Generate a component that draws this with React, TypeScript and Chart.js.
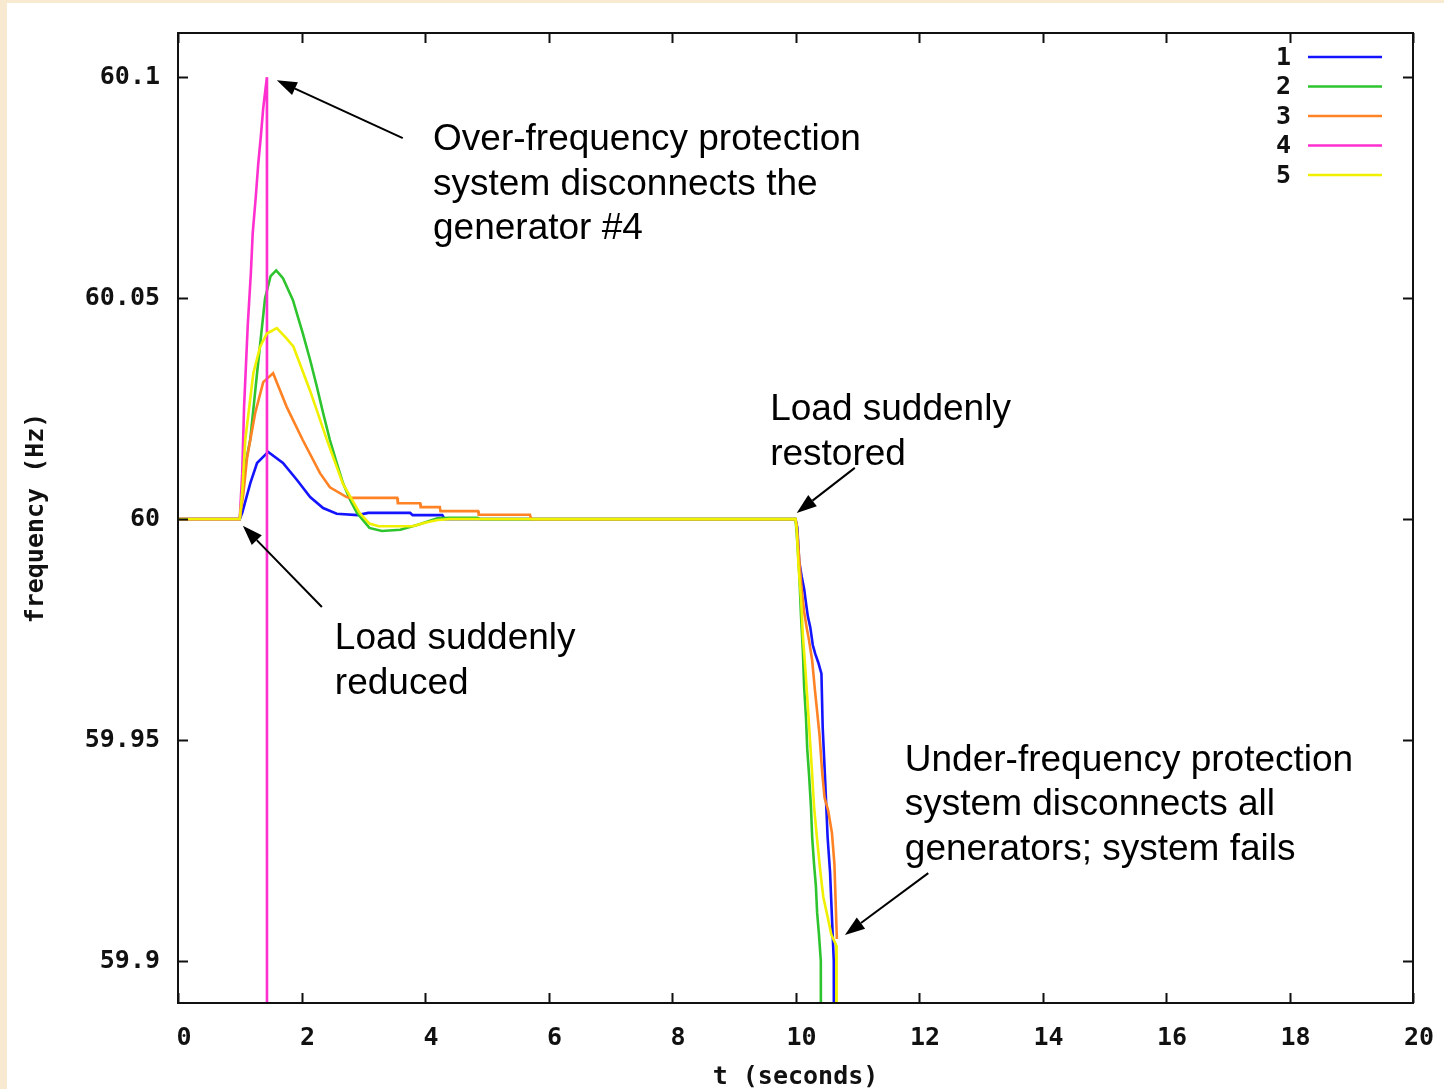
import React, { useEffect, useRef } from 'react';
import { Chart, registerables } from 'chart.js';

Chart.register(...registerables);

// ---- data ----
const seriesNames = ['1', '2', '3', '4', '5'];
const seriesColors = ['#1414ff', '#2ec42e', '#ff8224', '#ff2fd0', '#f0f000'];

const t1 = [0, 1.0, 1.04, 1.17, 1.28, 1.46, 1.7, 1.93, 2.14, 2.35, 2.57, 2.91, 3.08, 3.76, 3.8, 4.28, 4.32, 10.0, 10.03, 10.06, 10.1, 10.14, 10.17, 10.2, 10.24, 10.28, 10.32, 10.37, 10.42, 10.44, 10.48, 10.52, 10.56, 10.59, 10.62, 10.625];
const f1 = [60, 60, 60.0014, 60.0081, 60.0127, 60.0152, 60.0127, 60.0088, 60.005, 60.0025, 60.0012, 60.0009, 60.0014, 60.0014, 60.0009, 60.0009, 60, 60, 59.998, 59.9905, 59.987, 59.9842, 59.981, 59.978, 59.9755, 59.9715, 59.9695, 59.9675, 59.965, 59.953, 59.941, 59.928, 59.92, 59.91, 59.9, 59.85];

const t2 = [0, 1.0, 1.05, 1.1, 1.17, 1.28, 1.41, 1.5, 1.59, 1.7, 1.86, 2.02, 2.14, 2.25, 2.35, 2.46, 2.57, 2.67, 2.79, 2.9, 3.1, 3.3, 3.6, 3.9, 4.2, 4.4, 4.85, 4.9, 10.0, 10.02, 10.06, 10.09, 10.12, 10.14, 10.17, 10.19, 10.22, 10.25, 10.27, 10.3, 10.33, 10.35, 10.38, 10.41, 10.415];
const f2 = [60, 60, 60.008, 60.013, 60.018, 60.033, 60.05, 60.055, 60.0563, 60.0545, 60.0496, 60.0421, 60.036, 60.0299, 60.024, 60.0179, 60.0127, 60.0082, 60.0043, 60.0014, 59.998, 59.9973, 59.9976, 59.9988, 60.0002, 60.0003, 60.0003, 60, 60, 59.9968, 59.988, 59.978, 59.97, 59.962, 59.955, 59.948, 59.942, 59.935, 59.928, 59.922, 59.917, 59.911, 59.906, 59.9, 59.85];

const t3 = [0, 1.0, 1.06, 1.12, 1.25, 1.38, 1.54, 1.76, 2.02, 2.3, 2.46, 2.73, 2.79, 3.55, 3.56, 3.92, 3.93, 4.24, 4.25, 4.86, 4.87, 5.7, 5.72, 10.0, 10.02, 10.06, 10.1, 10.14, 10.18, 10.22, 10.27, 10.31, 10.35, 10.39, 10.43, 10.47, 10.53, 10.59, 10.63, 10.67];
const f3 = [60, 60, 60.006, 60.014, 60.024, 60.031, 60.033, 60.0254, 60.0179, 60.0104, 60.0072, 60.005, 60.0048, 60.0048, 60.0036, 60.0036, 60.0027, 60.0027, 60.0018, 60.0018, 60.001, 60.001, 60, 60, 59.9986, 59.991, 59.984, 59.979, 59.9755, 59.9725, 59.968, 59.962, 59.9565, 59.951, 59.943, 59.937, 59.934, 59.929, 59.922, 59.905];

const t4 = [0, 1.0, 1.04, 1.07, 1.13, 1.18, 1.21, 1.26, 1.3, 1.34, 1.38, 1.44, 1.441];
const f4 = [60, 60, 60.0104, 60.0253, 60.044, 60.0557, 60.0647, 60.073, 60.0805, 60.0864, 60.093, 60.1, 59.85];

const t5 = [0, 1.0, 1.04, 1.09, 1.22, 1.33, 1.44, 1.6, 1.75, 1.87, 2.14, 2.41, 2.67, 2.94, 3.1, 3.25, 3.8, 4.0, 4.2, 4.4, 10.0, 10.02, 10.05, 10.09, 10.12, 10.16, 10.19, 10.23, 10.27, 10.3, 10.35, 10.4, 10.45, 10.52, 10.58, 10.66, 10.665];
const f5 = [60, 60, 60.006, 60.018, 60.033, 60.039, 60.042, 60.0432, 60.041, 60.039, 60.029, 60.018, 60.008, 60.0014, 59.999, 59.9984, 59.9984, 59.9992, 59.9998, 60, 60, 59.9977, 59.989, 59.982, 59.9735, 59.966, 59.9597, 59.951, 59.9422, 59.935, 59.9275, 59.9205, 59.9145, 59.91, 59.906, 59.9035, 59.85];

const seriesT = [t1, t2, t3, t4, t5];
const seriesF = [f1, f2, f3, f4, f5];

const xTickValues = [0, 2, 4, 6, 8, 10, 12, 14, 16, 18, 20];
const xTickLabels = ['0', '2', '4', '6', '8', '10', '12', '14', '16', '18', '20'];
const yTickValues = [59.9, 59.95, 60, 60.05, 60.1];
const yTickLabels = ['59.9', '59.95', '60', '60.05', '60.1'];

const xTitle = 't (seconds)';
const yTitle = 'frequency (Hz)';

// annotation texts, anchored in data units (t, Hz)
const noteTexts = [
  ['Over-frequency protection', 'system disconnects the', 'generator #4'],
  ['Load suddenly', 'reduced'],
  ['Load suddenly', 'restored'],
  ['Under-frequency protection', 'system disconnects all', 'generators; system fails'],
];
const noteAnchorT = [4.13, 2.54, 9.59, 11.77];
const noteAnchorF = [60.0835, 59.9706, 60.0224, 59.943];
// arrows: tail -> head, data units
const arrowTailT = [3.64, 2.33, 10.96, 12.15];
const arrowTailF = [60.0862, 59.9801, 60.0116, 59.9199];
const arrowHeadT = [1.6, 1.05, 10.02, 10.8];
const arrowHeadF = [60.0993, 59.9985, 60.0014, 59.9059];

const MONO = 'bold 25px "DejaVu Sans Mono", monospace';
const SANS = '37px "Liberation Sans", Arial, sans-serif';

const decorPlugin = {
  id: 'decor',
  beforeDraw(chart: any) {
    const { ctx, width, height } = chart;
    ctx.save();
    ctx.fillStyle = '#f7ead0';
    ctx.fillRect(0, 0, width, height);
    ctx.fillStyle = '#ffffff';
    ctx.fillRect(7, 3, width - 7, height - 3);
    ctx.restore();
  },
  afterDraw(chart: any) {
    const { ctx, chartArea: a, scales } = chart;
    const xs = scales.x;
    const ys = scales.y;
    ctx.save();
    // frame
    ctx.strokeStyle = '#111';
    ctx.lineWidth = 2;
    ctx.strokeRect(a.left, a.top, a.right - a.left, a.bottom - a.top);
    // inward ticks, mirrored
    const tl = 10;
    ctx.beginPath();
    xTickValues.forEach((v) => {
      const px = Math.round(xs.getPixelForValue(v)) + 0.5;
      ctx.moveTo(px, a.bottom);
      ctx.lineTo(px, a.bottom - tl);
      ctx.moveTo(px, a.top);
      ctx.lineTo(px, a.top + tl);
    });
    yTickValues.forEach((v) => {
      const py = Math.round(ys.getPixelForValue(v)) + 0.5;
      ctx.moveTo(a.left, py);
      ctx.lineTo(a.left + tl, py);
      ctx.moveTo(a.right, py);
      ctx.lineTo(a.right - tl, py);
    });
    ctx.stroke();

    // axis titles
    ctx.fillStyle = '#111';
    ctx.font = MONO;
    ctx.textAlign = 'center';
    ctx.textBaseline = 'middle';
    ctx.fillText(xTitle, (a.left + a.right) / 2, 1077);
    ctx.save();
    ctx.translate(36, (a.top + a.bottom) / 2);
    ctx.rotate(-Math.PI / 2);
    ctx.fillText(yTitle, 0, 0);
    ctx.restore();

    // legend
    chart.data.datasets.forEach((ds: any, i: number) => {
      const y = 57 + i * 29.5;
      ctx.fillStyle = '#111';
      ctx.font = MONO;
      ctx.textAlign = 'right';
      ctx.textBaseline = 'middle';
      ctx.fillText(ds.label, 1291, y + 1);
      ctx.strokeStyle = ds.borderColor;
      ctx.lineWidth = 2.4;
      ctx.beginPath();
      ctx.moveTo(1308, y);
      ctx.lineTo(1382, y);
      ctx.stroke();
    });

    // annotation texts
    ctx.fillStyle = '#000';
    ctx.font = SANS;
    ctx.textAlign = 'left';
    ctx.textBaseline = 'alphabetic';
    noteTexts.forEach((lines, i) => {
      const x = xs.getPixelForValue(noteAnchorT[i]);
      const y0 = ys.getPixelForValue(noteAnchorF[i]);
      lines.forEach((ln, j) => ctx.fillText(ln, x, y0 + j * 44.5));
    });

    // arrows
    arrowTailT.forEach((_, i) => {
      const x1 = xs.getPixelForValue(arrowTailT[i]);
      const y1 = ys.getPixelForValue(arrowTailF[i]);
      const x2 = xs.getPixelForValue(arrowHeadT[i]);
      const y2 = ys.getPixelForValue(arrowHeadF[i]);
      const ang = Math.atan2(y2 - y1, x2 - x1);
      const hl = 20;
      const hw = 7;
      const bx = x2 - hl * Math.cos(ang);
      const by = y2 - hl * Math.sin(ang);
      ctx.strokeStyle = '#000';
      ctx.lineWidth = 2;
      ctx.beginPath();
      ctx.moveTo(x1, y1);
      ctx.lineTo(bx, by);
      ctx.stroke();
      ctx.fillStyle = '#000';
      ctx.beginPath();
      ctx.moveTo(x2, y2);
      ctx.lineTo(bx + hw * Math.sin(ang), by - hw * Math.cos(ang));
      ctx.lineTo(bx - hw * Math.sin(ang), by + hw * Math.cos(ang));
      ctx.closePath();
      ctx.fill();
    });
    ctx.restore();
  },
};

export default function App() {
  const ref = useRef<HTMLCanvasElement | null>(null);

  useEffect(() => {
    document.body.style.margin = '0';
    document.body.style.overflow = 'hidden';
    const canvas = ref.current;
    if (!canvas) return;
    const datasets = seriesNames.map((name, i) => ({
      label: name,
      data: seriesT[i].map((t, j) => ({ x: t, y: seriesF[i][j] })),
      borderColor: seriesColors[i],
      backgroundColor: seriesColors[i],
      borderWidth: 2.6,
      pointRadius: 0,
      fill: false,
      tension: 0,
      order: 5 - i,
    }));
    const chart = new Chart(canvas, {
      type: 'line',
      data: { datasets },
      options: {
        responsive: false,
        animation: false,
        devicePixelRatio: 1,
        layout: { padding: { top: 33, right: 31, left: 0, bottom: 0 } },
        plugins: { legend: { display: false }, tooltip: { enabled: false } },
        scales: {
          x: {
            type: 'linear',
            min: 0,
            max: 20,
            afterBuildTicks: (s: any) => {
              s.ticks = xTickValues.map((v) => ({ value: v }));
            },
            afterFit: (s: any) => {
              s.height = 86;
              s.paddingLeft = 0;
              s.paddingRight = 0;
            },
            grid: { display: false, drawTicks: false },
            border: { display: false },
            ticks: {
              autoSkip: false,
              maxRotation: 0,
              padding: 20,
              labelOffset: 6,
              color: '#111',
              font: { family: '"DejaVu Sans Mono", monospace', size: 25, weight: 'bold' },
              callback: (v: any) => xTickLabels[xTickValues.indexOf(Number(v))] ?? '',
            },
          },
          y: {
            type: 'linear',
            min: 59.8905,
            max: 60.11,
            afterBuildTicks: (s: any) => {
              s.ticks = yTickValues.map((v) => ({ value: v }));
            },
            afterFit: (s: any) => {
              s.width = 178;
              s.paddingTop = 0;
              s.paddingBottom = 0;
            },
            grid: { display: false, drawTicks: false },
            border: { display: false },
            ticks: {
              autoSkip: false,
              padding: 18,
              color: '#111',
              font: { family: '"DejaVu Sans Mono", monospace', size: 25, weight: 'bold' },
              callback: (v: any) => yTickLabels[yTickValues.indexOf(Number(v))] ?? '',
            },
          },
        },
      },
      plugins: [decorPlugin],
    });
    return () => chart.destroy();
  }, []);

  return (
    <div style={{ position: 'absolute', left: 0, top: 0, width: 1444, height: 1089 }}>
      <canvas ref={ref} width={1444} height={1089} style={{ display: 'block', width: 1444, height: 1089 }} />
    </div>
  );
}
